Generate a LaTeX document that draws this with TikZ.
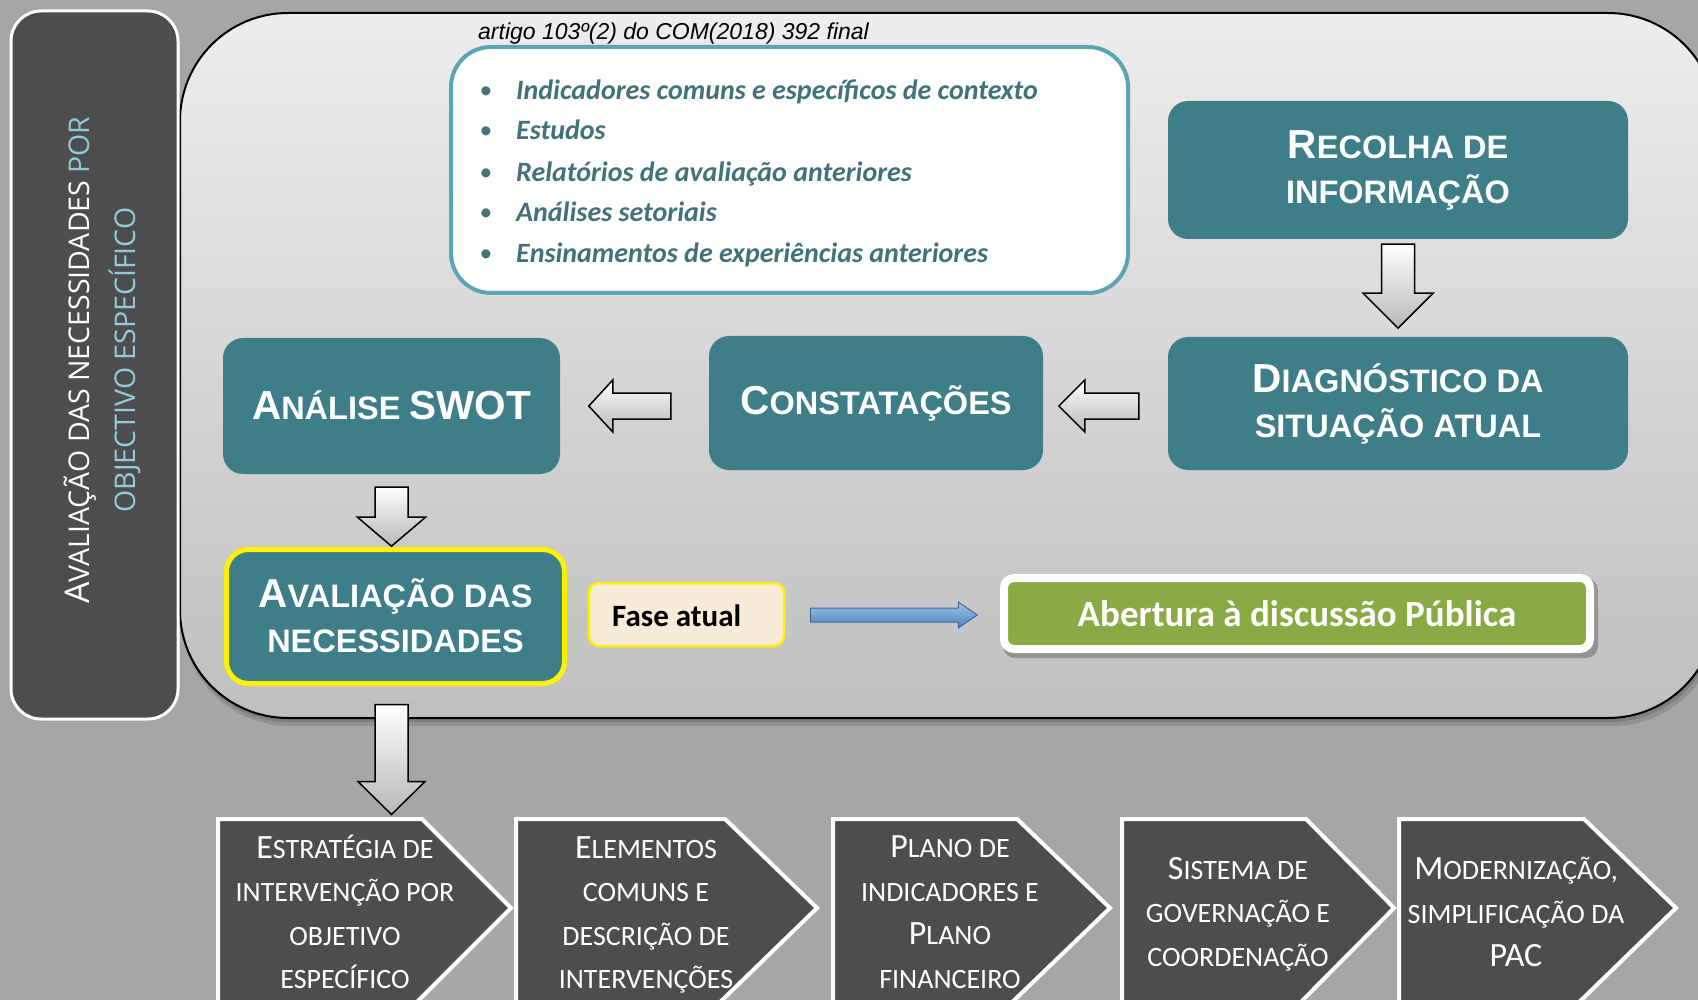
\documentclass[tikz,border=0pt]{standalone}
\usepackage{fontspec}
\setmainfont{Carlito}
\newfontfamily\arialf{Liberation Sans}
\newfontfamily\osans{Open Sans}
\usetikzlibrary{calc}

\definecolor{bggray}{HTML}{A6A6A6}
\definecolor{darkpanel}{HTML}{4D4D4D}
\definecolor{tealbox}{HTML}{3E7E88}
\definecolor{tealline}{HTML}{5BA4B4}
\definecolor{tealtext}{HTML}{41727A}
\definecolor{lightblue}{HTML}{92CBD8}
\definecolor{greenbox}{HTML}{8AAA44}
\definecolor{beige}{HTML}{F8ECD9}
\definecolor{arrowblue}{HTML}{4F81BD}
\definecolor{arrowbluelight}{HTML}{9DC3E6}

\newcommand\szA[2]{{\fontsize{#1pt}{#1pt}\selectfont #2}}

\newcommand\BlkDown[5]{%
\draw[blk] ($(#1)+(-#4,0)$) -- ($(#1)+(#4,0)$) -- ($(#1)+(#4,#2)$) -- ($(#1)+(#5,#2)$) -- ($(#1)+(0,#3)$) -- ($(#1)+(-#5,#2)$) -- ($(#1)+(-#4,#2)$) -- cycle;}
\newcommand\BlkLeft[5]{%
\draw[blk] ($(#1)+(0,-#4)$) -- ($(#1)+(-#2,-#4)$) -- ($(#1)+(-#2,-#5)$) -- ($(#1)+(-#3,0)$) -- ($(#1)+(-#2,#5)$) -- ($(#1)+(-#2,#4)$) -- ($(#1)+(0,#4)$) -- cycle;}
\newcommand\ChevPath[4]{%
\draw[chevron] (#1,#4) -- (#2,#4) -- (#3,{#4+89}) -- ({#2-12},{#4+190}) -- (#1,{#4+190}) -- cycle;}

\begin{document}
\begin{tikzpicture}[x=1pt,y=-1pt,
  tbox/.style={fill=tealbox, rounded corners=20pt, text=white, font=\arialf\bfseries\fontsize{32.5pt}{45pt}\selectfont, align=center, inner sep=0pt},
  blk/.style={draw=black, line width=1.5pt, top color=white, bottom color=black!28, line join=miter},
  chevron/.style={fill=darkpanel, draw=white, line width=4pt, line join=miter},
  chtext/.style={text=white, font=\fontsize{28pt}{43.5pt}\selectfont, align=center, inner sep=0pt},
  itemtext/.style={anchor=base west, inner sep=0pt, text=tealtext, font=\bfseries\itshape\fontsize{28pt}{28pt}\selectfont},
  bullet/.style={anchor=base, inner sep=0pt, text=tealtext, font=\fontsize{25.5pt}{25.5pt}\selectfont},
  bluearrow/.style={draw=arrowblue!80!black, line width=1pt, top color=arrowbluelight, bottom color=arrowblue},
  ]
% background
\fill[bggray] (0,0) rectangle (1698,1000);
\useasboundingbox (0,0) rectangle (1698,1000);

% main panel with soft shadow
\fill[black, opacity=0.12, rounded corners=108pt] (182,16) rectangle (1720,726);
\fill[black, opacity=0.12, rounded corners=108pt] (181,15) rectangle (1718,722);
\draw[line width=2pt, top color=black!7, bottom color=black!25, rounded corners=108pt] (180,13) rectangle (1716,718);

% left vertical panel
\draw[fill=darkpanel, draw=white, line width=3pt, rounded corners=30pt] (11,11) rectangle (178,719);
\node[rotate=90, inner sep=0pt, text=white, font=\osans\fontsize{28.5pt}{30pt}\selectfont] (vt1) at (80,360)
  {\szA{34}{A}VALIAÇÃO DAS NECESSIDADES \textcolor{lightblue}{POR}};
\node[rotate=90, inner sep=0pt, text=lightblue, font=\osans\fontsize{28.5pt}{30pt}\selectfont] (vt2) at (125,360)
  {OBJECTIVO ESPECÍFICO};

% reference line
\node[anchor=base west, inner sep=0pt, font=\arialf\itshape\fontsize{23pt}{23pt}\selectfont] (art) at (478,40)
  {artigo 103º(2) do COM(2018) 392 final};

% information box
\node[draw=tealline, line width=4pt, fill=white, rounded corners=40pt, minimum width=677, minimum height=246, inner sep=0pt] (info) at (789.5,170) {};
\node[bullet] (d1) at (486,99) {•};
\node[bullet] (d2) at (486,139) {•};
\node[bullet] (d3) at (486,181) {•};
\node[bullet] (d4) at (486,221) {•};
\node[bullet] (d5) at (486,262) {•};
\node[itemtext] (i1) at (516,100) {Indicadores comuns e específicos de contexto};
\node[itemtext] (i2) at (516,140) {Estudos};
\node[itemtext] (i3) at (516,182) {Relatórios de avaliação anteriores};
\node[itemtext] (i4) at (516,222) {Análises setoriais};
\node[itemtext] (i5) at (516,263) {Ensinamentos de experiências anteriores};

% teal boxes
\node[tbox, minimum width=460, minimum height=138] (rec) at (1398,170) {\raisebox{-2pt}{\szA{40.5}{R}ECOLHA DE}\\\raisebox{-2pt}{INFORMAÇÃO}};
\node[tbox, minimum width=460, minimum height=133] (diag) at (1398,403.5) {\szA{40.5}{D}IAGNÓSTICO DA\\SITUAÇÃO ATUAL};
\node[tbox, minimum width=334, minimum height=134] (const) at (876,403) {\szA{40.5}{C}ONSTATAÇÕES};
\node[tbox, minimum width=337, minimum height=136] (swot) at (391.5,406) {\raisebox{2pt}{\szA{40.5}{A}NÁLISE \szA{40.5}{SWOT}}};
\node[tbox, draw=yellow, line width=5pt, rounded corners=22pt, minimum width=338, minimum height=134] (aval) at (395.5,616.5) {\raisebox{2pt}{\szA{40.5}{A}VALIAÇÃO DAS}\\\raisebox{2pt}{NECESSIDADES}};

% block arrows
\coordinate (a1) at ($(rec.south)+(0,5)$);
\BlkDown{a1}{49}{84}{16.5}{35}
\coordinate (a2) at ($(swot.south)+(0,13)$);
\BlkDown{a2}{30}{59}{16.5}{34}
\coordinate (a3) at ($(swot.south |- aval.south)+(0,18.5)$);
\BlkDown{a3}{77}{110}{16.5}{33.5}
\coordinate (a4) at ($(diag.west)+(-29,2.5)$);
\BlkLeft{a4}{54}{80}{13}{26}
\coordinate (a5) at ($(const.west)+(-38,3)$);
\BlkLeft{a5}{58}{82}{13}{26}

% current phase
\node[fill=beige, draw=yellow, line width=2.5pt, rounded corners=10pt, minimum width=195, minimum height=63, inner sep=0pt] (fase) at (686.5,614.5) {};
\node[anchor=base west, inner sep=0pt, font=\bfseries\fontsize{31pt}{31pt}\selectfont] (fasel) at (612,626) {Fase atual};

% public discussion
\fill[black, opacity=0.25, rounded corners=12pt] (1003,578) rectangle (1598,658);
\node[fill=greenbox, draw=white, line width=8pt, rounded corners=10pt, minimum width=586, minimum height=71, inner sep=0pt, text=white, font=\bfseries\fontsize{37pt}{37pt}\selectfont] (pub) at (1297,613.5) {Abertura à discussão Pública};

% blue arrow
\coordinate (a6) at ($(fase.east)+(25,0.5)$);
\draw[bluearrow] ($(a6)+(0,-7)$) -- ($(a6)+(148,-7)$) -- ($(a6)+(148,-13)$) -- ($(a6)+(167,0)$) -- ($(a6)+(148,13)$) -- ($(a6)+(148,7)$) -- ($(a6)+(0,7)$) -- cycle;

% chevrons
\ChevPath{218}{422}{511}{819}
\ChevPath{516}{725}{817}{819}
\ChevPath{833}{1017}{1110}{819}
\ChevPath{1122}{1306}{1394}{819}
\ChevPath{1399}{1584}{1676}{819}

\node[chtext] (c1) at (345,912) {\szA{34}{E}STRATÉGIA DE\\INTERVENÇÃO POR\\OBJETIVO\\ESPECÍFICO};
\node[chtext] (c2) at (646,915) {\szA{34}{E}LEMENTOS\\COMUNS E\\DESCRIÇÃO DE\\INTERVENÇÕES};
\node[chtext] (c3) at (950,912) {\szA{34}{P}LANO DE\\INDICADORES E\\\szA{34}{P}LANO\\FINANCEIRO};
\node[chtext] (c4) at (1238,914) {\szA{34}{S}ISTEMA DE\\GOVERNAÇÃO E\\COORDENAÇÃO};
\node[chtext] (c5) at (1516,912) {\szA{34}{M}ODERNIZAÇÃO,\\SIMPLIFICAÇÃO DA\\\szA{34}{PAC}};
\end{tikzpicture}
\end{document}
